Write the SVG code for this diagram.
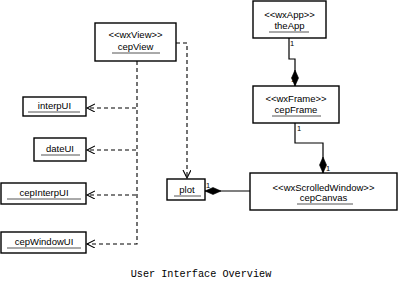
<svg xmlns="http://www.w3.org/2000/svg" width="400" height="283" viewBox="0 0 400 283">
  <style>
    .box { fill: #ffffff; stroke: #000000; stroke-width: 1.4; }
    .t { font-family: "Liberation Sans", Arial, sans-serif; font-size: 9.5px; fill: #000000; text-anchor: middle; }
    .m { font-family: "Liberation Sans", Arial, sans-serif; font-size: 7.5px; fill: #000000; }
    .ul { stroke: #555555; stroke-width: 1; }
    .dep { fill: none; stroke: #000000; stroke-width: 1.1; stroke-dasharray: 4 3; }
    .comp { fill: none; stroke: #000000; stroke-width: 1.2; }
    .cap { font-family: "Liberation Mono", "Courier New", monospace; font-size: 10.2px; fill: #000000; text-anchor: middle; }
  </style>
  <defs>
    <marker id="open" markerWidth="10" markerHeight="10" refX="8" refY="4" orient="auto" markerUnits="userSpaceOnUse">
      <path d="M0,0 L8,4 L0,8" fill="none" stroke="#000000" stroke-width="1.1"/>
    </marker>
    <marker id="diamond" markerWidth="18" markerHeight="8" refX="16" refY="3.5" orient="auto" markerUnits="userSpaceOnUse">
      <path d="M0,3.5 L8,0 L16,3.5 L8,7 Z" fill="#000000" stroke="#000000" stroke-width="0.6"/>
    </marker>
  </defs>

  <!-- connectors -->
  <g id="connectors">
    <!-- dependencies from cepView: shared trunk, then branches -->
    <path class="dep" d="M137,61 V244 H87" marker-end="url(#open)"/>
    <path class="dep" d="M136,108 H87" marker-end="url(#open)"/>
    <path class="dep" d="M136,150 H87" marker-end="url(#open)"/>
    <path class="dep" d="M136,195 H87" marker-end="url(#open)"/>
    <path class="dep" d="M176,43 H187 V178" marker-end="url(#open)"/>
    <!-- compositions -->
    <path class="comp" d="M289,38 V59 H295 V86" marker-end="url(#diamond)"/>
    <path class="comp" d="M295,123 V143 H323 V173" marker-end="url(#diamond)"/>
    <path class="comp" d="M250,191 H205" marker-end="url(#diamond)"/>
    <text class="m" x="290" y="46">1</text>
    <text class="m" x="291" y="82">1</text>
    <text class="m" x="297" y="131">1</text>
    <text class="m" x="326" y="171">1</text>
    <text class="m" x="206" y="188">1</text>
    <text class="m" x="251" y="199">1</text>
  </g>

  <g id="cepView">
    <rect class="box" x="95" y="23" width="81" height="38"/>
    <text class="t" x="135.5" y="38">&lt;&lt;wxView&gt;&gt;</text>
    <text class="t" x="135.5" y="50">cepView</text>
    <line class="ul" x1="112" y1="53" x2="160" y2="53"/>
  </g>

  <g id="theApp">
    <rect class="box" x="253" y="1" width="73" height="37"/>
    <text class="t" x="289.5" y="18">&lt;&lt;wxApp&gt;&gt;</text>
    <text class="t" x="289.5" y="29">theApp</text>
    <line class="ul" x1="269" y1="32" x2="309" y2="32"/>
  </g>

  <g id="cepFrame">
    <rect class="box" x="253" y="86" width="86" height="37"/>
    <text class="t" x="296" y="102">&lt;&lt;wxFrame&gt;&gt;</text>
    <text class="t" x="296" y="113">cepFrame</text>
    <line class="ul" x1="272" y1="116" x2="321" y2="116"/>
  </g>

  <g id="cepCanvas">
    <rect class="box" x="250" y="173" width="147" height="37"/>
    <text class="t" x="323.5" y="191">&lt;&lt;wxScrolledWindow&gt;&gt;</text>
    <text class="t" x="323.5" y="201">cepCanvas</text>
    <line class="ul" x1="297" y1="204" x2="353" y2="204"/>
  </g>

  <g id="plot">
    <rect class="box" x="167" y="179" width="38" height="21"/>
    <text class="t" x="187" y="193">plot</text>
    <line class="ul" x1="174" y1="196" x2="201" y2="196"/>
  </g>

  <g id="interpUI">
    <rect class="box" x="23" y="97" width="63" height="19"/>
    <text class="t" x="54.5" y="109">interpUI</text>
    <line class="ul" x1="28" y1="112" x2="80" y2="112"/>
  </g>

  <g id="dateUI">
    <rect class="box" x="34" y="138" width="52" height="23"/>
    <text class="t" x="60" y="152">dateUI</text>
    <line class="ul" x1="41" y1="155" x2="80" y2="155"/>
  </g>

  <g id="cepInterpUI">
    <rect class="box" x="1" y="183" width="85" height="21"/>
    <text class="t" x="44" y="196">cepInterpUI</text>
    <line class="ul" x1="7" y1="199" x2="81" y2="199"/>
  </g>

  <g id="cepWindowUI">
    <rect class="box" x="1" y="232" width="85" height="21"/>
    <text class="t" x="44" y="245">cepWindowUI</text>
    <line class="ul" x1="7" y1="248" x2="81" y2="248"/>
  </g>

  <text class="cap" x="201" y="277">User Interface Overview</text>
</svg>
